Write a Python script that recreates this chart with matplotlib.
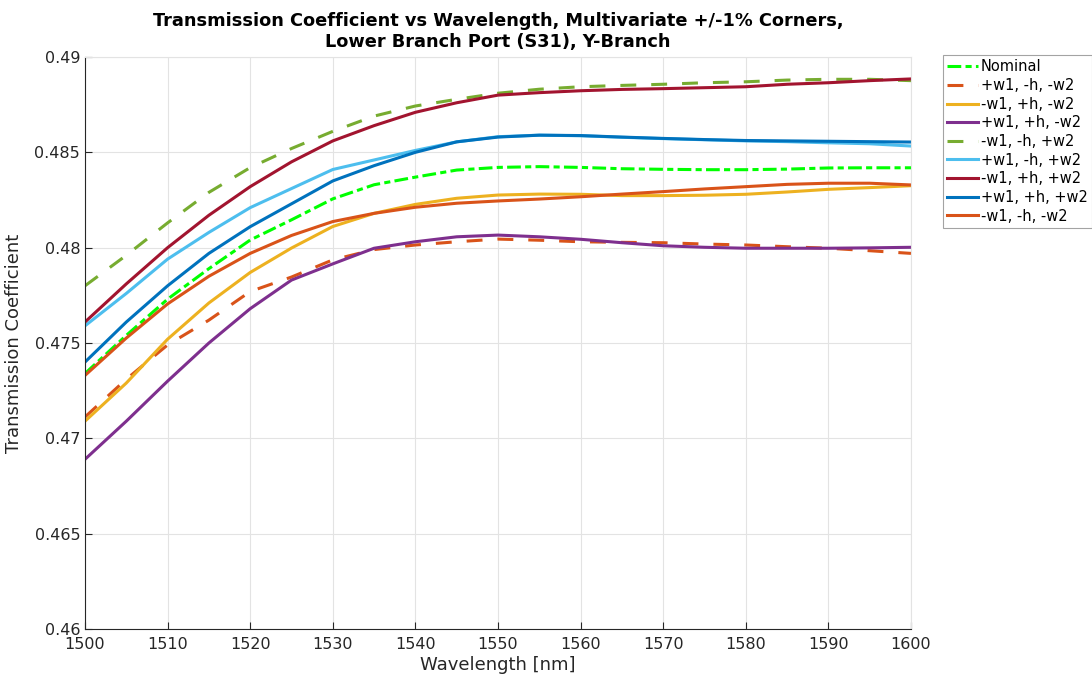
import matplotlib
matplotlib.use("Agg")
import matplotlib.pyplot as plt
import numpy as np

wavelength = [1500, 1505, 1510, 1515, 1520, 1525, 1530, 1535, 1540, 1545, 1550,
              1555, 1560, 1565, 1570, 1575, 1580, 1585, 1590, 1595, 1600]

nominal = [0.4734, 0.4754, 0.4773, 0.4789, 0.4804, 0.48146, 0.48256, 0.4833, 0.4837, 0.48407, 0.48421,
           0.48425, 0.48421, 0.48414, 0.48411, 0.48409, 0.48409, 0.48412, 0.48418, 0.48419, 0.48419]
p_w1_m_h_m_w2 = [0.47112, 0.4731, 0.4749, 0.4762, 0.4777, 0.47846, 0.47936, 0.4799, 0.48014, 0.48031, 0.48045,
                 0.48039, 0.48031, 0.48028, 0.48026, 0.48019, 0.48014, 0.48005, 0.47997, 0.47984, 0.4797]
m_w1_p_h_m_w2 = [0.4709, 0.4729, 0.4752, 0.4771, 0.4787, 0.47998, 0.48111, 0.4818, 0.48227, 0.48259, 0.48276,
                 0.48281, 0.4828, 0.48273, 0.48273, 0.48275, 0.4828, 0.48292, 0.48306, 0.48315, 0.48325]
p_w1_p_h_m_w2 = [0.4689, 0.4709, 0.4730, 0.4750, 0.4768, 0.4783, 0.47915, 0.47997, 0.48031, 0.48057, 0.48066,
                 0.48057, 0.48044, 0.48026, 0.4801, 0.48002, 0.47997, 0.47997, 0.47997, 0.47999, 0.48002]
m_w1_m_h_p_w2 = [0.4780, 0.4796, 0.4813, 0.4829, 0.4842, 0.4852, 0.4861, 0.4869, 0.48743, 0.48778, 0.4881,
                 0.48831, 0.48844, 0.48851, 0.48857, 0.48865, 0.4887, 0.48879, 0.48883, 0.48883, 0.48876]
p_w1_m_h_p_w2 = [0.4759, 0.4776, 0.4794, 0.4808, 0.4821, 0.4831, 0.4841, 0.4846, 0.4851, 0.48555, 0.48582,
                 0.4859, 0.48587, 0.48579, 0.48572, 0.48566, 0.4856, 0.48556, 0.4855, 0.48545, 0.48533]
m_w1_p_h_p_w2 = [0.4761, 0.4781, 0.4800, 0.4817, 0.4832, 0.4845, 0.4856, 0.4864, 0.4871, 0.4876, 0.4880,
                 0.48813, 0.48823, 0.4883, 0.48834, 0.48839, 0.48844, 0.48857, 0.48865, 0.48876, 0.48885]
p_w1_p_h_p_w2 = [0.4740, 0.4761, 0.4780, 0.4797, 0.4811, 0.4823, 0.4835, 0.4843, 0.4850, 0.48555, 0.4858,
                 0.4859, 0.48588, 0.4858, 0.48573, 0.48567, 0.48562, 0.4856, 0.48558, 0.48556, 0.48554]
m_w1_m_h_m_w2 = [0.4733, 0.47526, 0.47705, 0.4785, 0.4797, 0.48064, 0.48137, 0.4818, 0.48212, 0.48233, 0.48245,
                 0.48255, 0.48267, 0.48281, 0.48294, 0.48308, 0.4832, 0.48332, 0.48338, 0.48338, 0.48329]

labels = ["Nominal", "+w1, -h, -w2", "-w1, +h, -w2", "+w1, +h, -w2", "-w1, -h, +w2",
          "+w1, -h, +w2", "-w1, +h, +w2", "+w1, +h, +w2", "-w1, -h, -w2"]
series = [nominal, p_w1_m_h_m_w2, m_w1_p_h_m_w2, p_w1_p_h_m_w2, m_w1_m_h_p_w2,
          p_w1_m_h_p_w2, m_w1_p_h_p_w2, p_w1_p_h_p_w2, m_w1_m_h_m_w2]
colors = ["#00FF00", "#D95319", "#EDB120", "#7E2F8E", "#77AC30",
          "#4DBEEE", "#A2142F", "#0072BD", "#D95319"]
dash = (0, (5.2, 4.9))
dashdot = (0, (4.5, 1.4, 2.0, 1.4))
styles = [dashdot, dash, "-", "-", dash, "-", "-", "-", "-"]

fig = plt.figure(figsize=(10.92, 6.79), dpi=100)
ax = fig.add_axes([85 / 1092, 50 / 679, 826 / 1092, 572 / 679])

for y, lab, c, ls in zip(series, labels, colors, styles):
    ax.plot(wavelength, y, color=c, linestyle=ls, linewidth=2.2, label=lab)

ax.set_xlim(1500, 1600)
ax.set_ylim(0.46, 0.49)
ax.set_xticks(np.arange(1500, 1601, 10))
ax.set_yticks([0.46, 0.465, 0.47, 0.475, 0.48, 0.485, 0.49])
ax.set_yticklabels(["0.46", "0.465", "0.47", "0.475", "0.48", "0.485", "0.49"])
ax.grid(True, color="#e3e3e3", linewidth=0.8)
ax.set_axisbelow(True)
ax.tick_params(direction="in", length=5, labelsize=11.5, colors="#262626",
               top=False, right=False)
ax.tick_params(axis="x", pad=6)
for s in ["left", "bottom"]:
    ax.spines[s].set_color("#262626")
    ax.spines[s].set_linewidth(0.8)
for s in ["top", "right"]:
    ax.spines[s].set_color("#e3e3e3")
    ax.spines[s].set_linewidth(0.8)

ax.set_xlabel("Wavelength [nm]", fontsize=13, color="#262626", labelpad=3)
ax.set_ylabel("Transmission Coefficient", fontsize=13, color="#262626", labelpad=8)
ax.set_title("Transmission Coefficient vs Wavelength, Multivariate +/-1% Corners,\n"
             "Lower Branch Port (S31), Y-Branch", fontsize=12.8, fontweight="bold", pad=7)

leg = fig.legend(loc="upper left", bbox_to_anchor=(943 / 1092, 1 - 55 / 679),
                 fontsize=10.5, frameon=True, fancybox=False, handlelength=2.1,
                 handletextpad=0.2, borderpad=0.3, labelspacing=0.25, borderaxespad=0)
leg.get_frame().set_edgecolor("#8c8c8c")
leg.get_frame().set_linewidth(0.8)

fig.savefig("out.png", dpi=100)
